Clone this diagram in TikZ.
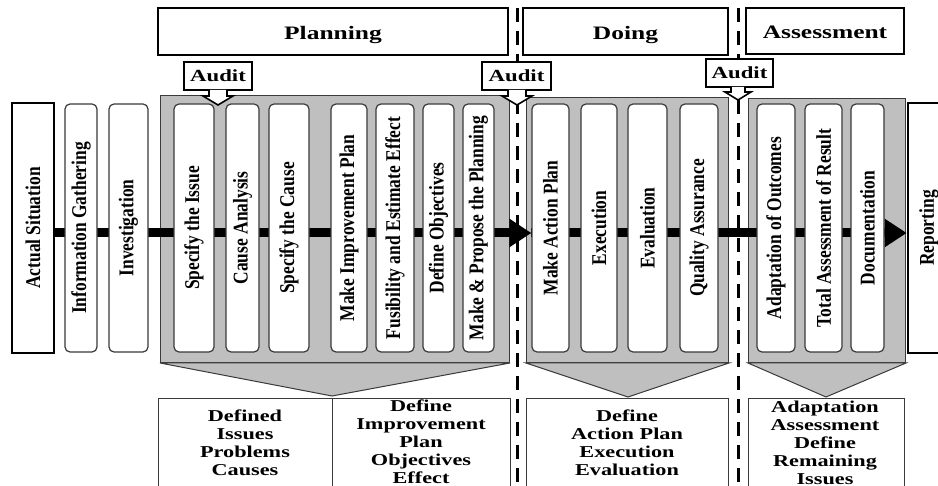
\documentclass[tikz,border=0pt]{standalone}
\usepackage{fontspec}
\setmainfont{Liberation Serif}
\usetikzlibrary{arrows.meta}
\definecolor{grp}{HTML}{BFBFBF}
\definecolor{edgec}{HTML}{3A3A3A}
\pgfdeclarelayer{bg}
\pgfsetlayers{bg,main}
\newcommand\vtext[1]{\rotatebox{90}{\scalebox{0.83}[1]{#1}}}
\newcommand\wide[1]{\scalebox{1.34}[1]{\begin{tabular}{@{}c@{}}#1\end{tabular}}}
\newcommand\wideone[2]{\raisebox{-#1pt}[0pt][0pt]{\scalebox{1.34}[1]{#2}}}
\newcommand\mkcol[5]{\node[#5, minimum width={(#3-#2)*1pt}] (#1) at ({(#2+#3)/2},228) {\vtext{#4}};}
\begin{document}
\begin{tikzpicture}[x=1pt,y=-1pt,
  col/.style={draw=edgec, line width=1.2pt, fill=white, rounded corners=5pt, inner sep=0pt, minimum height=248pt, font=\bfseries\fontsize{21}{23}\selectfont},
  endbox/.style={draw=black, line width=2.6pt, fill=white, inner sep=0pt, minimum height=250pt, font=\bfseries\fontsize{21}{23}\selectfont},
  grpbox/.style={draw=edgec, line width=1pt, fill=grp, inner sep=0pt},
  hdr/.style={draw=black, line width=2.4pt, fill=white, inner sep=0pt, font=\bfseries\fontsize{19}{21}\selectfont},
  audit/.style={draw=black, line width=2pt, fill=white, inner sep=0pt, font=\bfseries\fontsize{17}{19}\selectfont},
  pointer/.style={draw=black, line width=1.6pt, fill=white},
  btmbox/.style={draw=edgec, line width=1.2pt, fill=white, inner sep=0pt},
  btmtext/.style={align=center, inner sep=0pt, font=\bfseries\fontsize{16.6}{18}\selectfont},
  divider/.style={line width=3pt, dash pattern=on 14pt off 9pt},
  bar/.style={line width=9pt, -{Triangle[length=22pt,width=27pt]}},
]
\useasboundingbox (0,0) rectangle (938,486);
\clip (0,0) rectangle (938,486);

% columns
\mkcol{c0}{12}{54}{Actual Situation}{endbox}
\mkcol{c1}{65}{97}{Information Gathering}{col}
\mkcol{c2}{109}{148}{Investigation}{col}
\mkcol{c3}{174}{214}{Specify the Issue}{col}
\mkcol{c4}{226}{259}{Cause Analysis}{col}
\mkcol{c5}{269}{309}{Specify the Cause}{col}
\mkcol{c6}{331}{367}{Make Improvement Plan}{col}
\mkcol{c7}{376}{414}{Fusibility and Estimate Effect}{col}
\mkcol{c8}{423}{454}{Define Objectives}{col}
\mkcol{c9}{463}{494}{Make \& Propose the Planning}{col}
\mkcol{c10}{532}{569}{Make Action Plan}{col}
\mkcol{c11}{581}{617}{Execution}{col}
\mkcol{c12}{628}{667}{Evaluation}{col}
\mkcol{c13}{680}{718}{Quality Assurance}{col}
\mkcol{c14}{757}{795}{Adaptation of Outcomes}{col}
\mkcol{c15}{805}{842}{Total Assessment of Result}{col}
\mkcol{c16}{851}{884}{Documentation}{col}
\mkcol{rep}{908}{950}{Reporting}{endbox}

\begin{pgfonlayer}{bg}
\fill[white] (0,0) rectangle (938,486);
% group panels
\node[grpbox, minimum width=349pt, minimum height=267pt, anchor=north west] (gP) at (160,95) {};
\filldraw[grpbox] (gP.south west) -- (gP.south east) -- (332,396) -- cycle;
\node[grpbox, minimum width=202pt, minimum height=265pt, anchor=north west] (gD) at (526,97) {};
\filldraw[grpbox] (gD.south west) -- (gD.south east) -- (628,397) -- cycle;
\node[grpbox, minimum width=157pt, minimum height=264pt, anchor=north west] (gA) at (748,98) {};
\filldraw[grpbox] (gA.south west) -- (gA.south east) -- (826,397) -- cycle;
% dividers
\coordinate (d1t) at (517,8); \coordinate (d1b) at (517,490);
\coordinate (d2t) at (738,8); \coordinate (d2b) at (738,490);
\draw[divider] (d1t) -- (d1b);
\draw[divider] (d2t) -- (d2b);
% main flow
\coordinate (barY) at (0,233);
\draw[bar] (c0.east |- barY) -- (c10.west |- barY);
\draw[bar] (c10.west |- barY) -- (rep.west |- barY);
\end{pgfonlayer}

% bottom boxes
\node[btmbox, minimum width=174pt, minimum height=102pt, anchor=north west] (b1) at (158,398) {};
\node[btmbox, minimum width=178pt, minimum height=102pt, anchor=north west] (b2) at (332,398) {};
\node[btmbox, minimum width=202pt, minimum height=102pt, anchor=north west] (b3) at (526,398) {};
\node[btmbox, minimum width=156pt, minimum height=102pt, anchor=north west] (b4) at (748,398) {};
\node[btmtext] (t1) at (245,445) {\wide{Defined\\Issues\\Problems\\Causes}};
\node[btmtext] (t2) at (421,444) {\wide{Define\\Improvement\\Plan\\Objectives\\Effect}};
\node[btmtext] (t3) at (627,445) {\wide{Define\\Action Plan\\Execution\\Evaluation}};
\node[btmtext] (t4) at (825,445) {\wide{Adaptation\\Assessment\\Define\\Remaining\\Issues}};

% headers
\node[hdr, minimum width=350pt, minimum height=47pt] (hP) at (333,31.5) {\wideone{8}{Planning}};
\node[hdr, minimum width=205pt, minimum height=47pt] (hD) at (625.5,31.5) {\wideone{8}{Doing}};
\node[hdr, minimum width=158pt, minimum height=46pt] (hA) at (825,31) {\wideone{8}{Assessment}};

% audits
\node[audit, minimum width=68pt, minimum height=28pt] (a1) at (218,76) {\wideone{6}{Audit}};
\filldraw[pointer] (209,90) -- (209,96) -- (203,96) -- (218,105) -- (233,96) -- (227,96) -- (227,90);
\node[audit, minimum width=69pt, minimum height=28pt] (a2) at (516.5,76) {\wideone{6}{Audit}};
\filldraw[pointer] (508,90) -- (508,96) -- (502,96) -- (517,105) -- (532,96) -- (526,96) -- (526,90);
\node[audit, minimum width=67pt, minimum height=28pt] (a3) at (739.5,73) {\wideone{6}{Audit}};
\filldraw[pointer] (731,87) -- (731,92) -- (725,92) -- (738,100) -- (751,92) -- (745,92) -- (745,87);
\end{tikzpicture}
\end{document}
